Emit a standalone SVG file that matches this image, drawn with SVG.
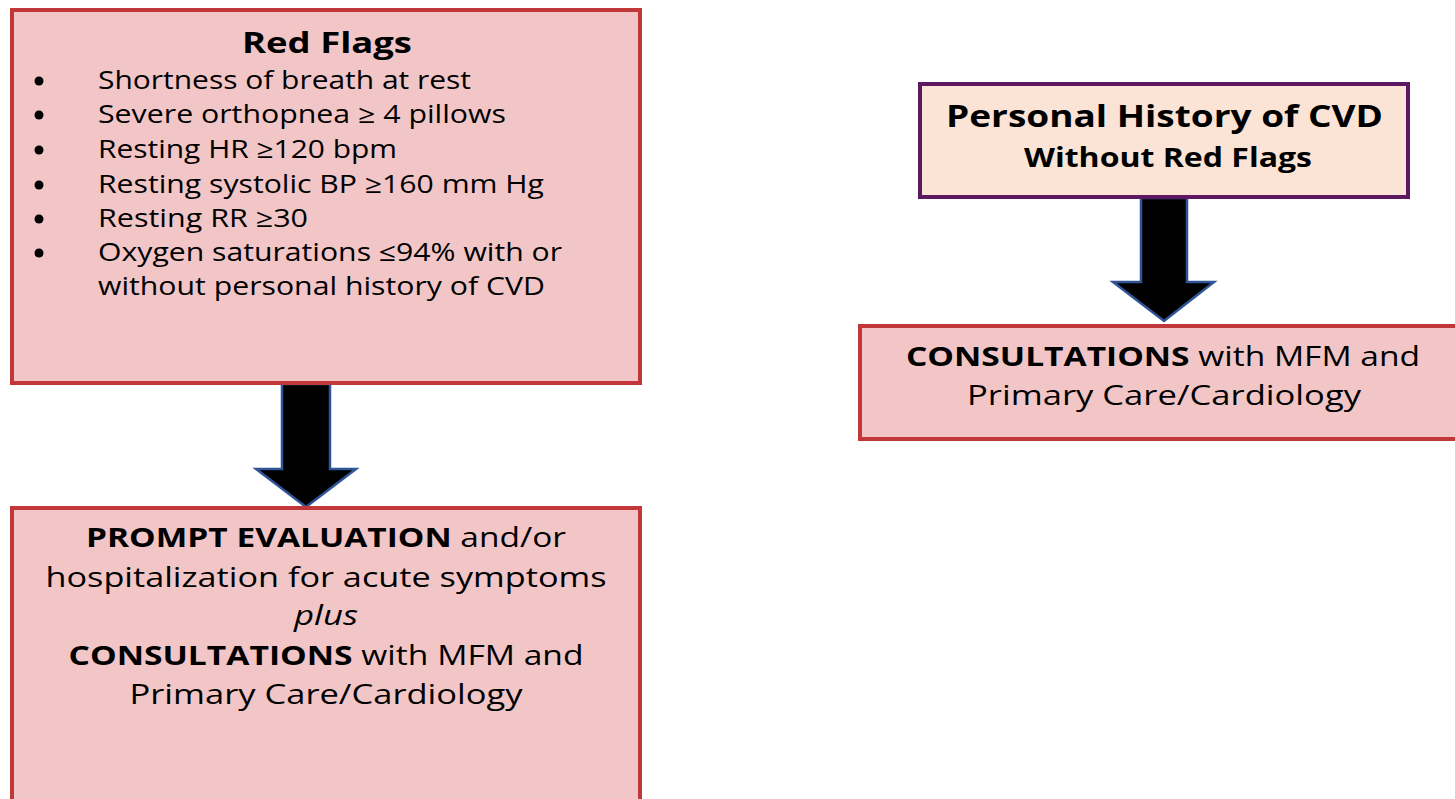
<svg xmlns="http://www.w3.org/2000/svg" width="1455" height="799" viewBox="0 0 1455 799">
<style>
.box{fill:#f2c6c7;stroke:#c1373a;stroke-width:4}
.pbox{fill:#fbe3d6;stroke:#5e1862;stroke-width:4}
.arrow{fill:#000;stroke:#2f5597;stroke-width:2.5;stroke-linejoin:miter}
text{font-family:"Open Sans",Lato,"Liberation Sans",sans-serif;fill:#000}
.b{font-weight:bold}
.c{text-anchor:middle}
.li{font-size:25px}
.main{font-size:27px}
</style>
<rect width="1455" height="799" fill="#fff"/>
<g id="connectors">
<path class="arrow" d="M282,384 H330 V469 H356 L306,507 L256,469 H282 Z"/>
<path class="arrow" d="M1141,198 H1187 V282 H1214 L1164,321 L1113,282 H1141 Z"/>
</g>
<g id="red-flags">
<rect class="box" x="12" y="10" width="628" height="373"/>
<text class="b c" x="327" y="53" font-size="28" textLength="170" lengthAdjust="spacingAndGlyphs">Red Flags</text>
<g class="li">
<circle cx="39" cy="81" r="4.5"/><text x="98" y="89" textLength="373" lengthAdjust="spacingAndGlyphs">Shortness of breath at rest</text>
<circle cx="39" cy="115" r="4.5"/><text x="98" y="123" textLength="408" lengthAdjust="spacingAndGlyphs">Severe orthopnea ≥ 4 pillows</text>
<circle cx="39" cy="150" r="4.5"/><text x="98" y="158" textLength="299" lengthAdjust="spacingAndGlyphs">Resting HR ≥120 bpm</text>
<circle cx="39" cy="185" r="4.5"/><text x="98" y="193" textLength="446" lengthAdjust="spacingAndGlyphs">Resting systolic BP ≥160 mm Hg</text>
<circle cx="39" cy="219" r="4.5"/><text x="98" y="227" textLength="210" lengthAdjust="spacingAndGlyphs">Resting RR ≥30</text>
<circle cx="39" cy="253" r="4.5"/><text x="98" y="261" textLength="464" lengthAdjust="spacingAndGlyphs">Oxygen saturations ≤94% with or</text>
<text x="98" y="295" textLength="447" lengthAdjust="spacingAndGlyphs">without personal history of CVD</text>
</g>
</g>
<g id="prompt-evaluation">
<rect class="box" x="12" y="508" width="628" height="310"/>
<g class="main c">
<text x="326" y="547" textLength="480" lengthAdjust="spacingAndGlyphs"><tspan class="b">PROMPT EVALUATION</tspan> and/or</text>
<text x="326" y="587" textLength="561" lengthAdjust="spacingAndGlyphs">hospitalization for acute symptoms</text>
<text x="326" y="625" font-style="italic" textLength="64" lengthAdjust="spacingAndGlyphs">plus</text>
<text x="326" y="665" textLength="515" lengthAdjust="spacingAndGlyphs"><tspan class="b">CONSULTATIONS</tspan> with MFM and</text>
<text x="326" y="704" textLength="393" lengthAdjust="spacingAndGlyphs">Primary Care/Cardiology</text>
</g>
</g>
<g id="personal-history">
<rect class="pbox" x="920" y="84" width="488" height="113"/>
<text class="b c" x="1164.5" y="127" font-size="30" textLength="437" lengthAdjust="spacingAndGlyphs">Personal History of CVD</text>
<text class="b c" x="1168" y="167" font-size="26" textLength="288" lengthAdjust="spacingAndGlyphs">Without Red Flags</text>
</g>
<g id="consultations">
<rect class="box" x="860" y="326" width="610" height="113"/>
<g class="main c">
<text x="1163" y="366" textLength="514" lengthAdjust="spacingAndGlyphs"><tspan class="b">CONSULTATIONS</tspan> with MFM and</text>
<text x="1164" y="405" textLength="394" lengthAdjust="spacingAndGlyphs">Primary Care/Cardiology</text>
</g>
</g>
</svg>
